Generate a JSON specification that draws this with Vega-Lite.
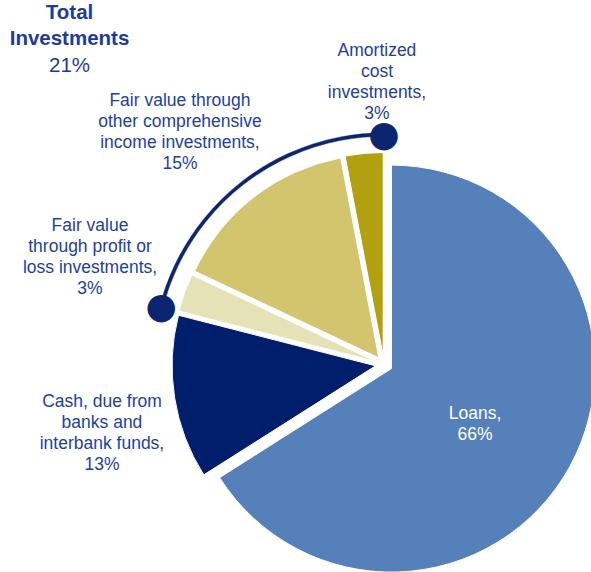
{
  "$schema": "https://vega.github.io/schema/vega-lite/v6.json",
  "width": 414,
  "height": 415,
  "autosize": {"type": "none"},
  "padding": {"left": 177, "top": 157, "right": 0, "bottom": 0},
  "background": "white",
  "config": {
    "view": {"stroke": null},
    "text": {"font": "Liberation Sans", "fontSize": 17.5, "lineBreak": "\n", "lineHeight": 21, "align": "center", "baseline": "middle"}
  },
  "title": {
    "text": ["Total", "Investments"],
    "subtitle": "21%",
    "anchor": "start",
    "frame": "group",
    "align": "center",
    "dx": -107.5,
    "dy": 65,
    "offset": 0,
    "font": "Liberation Sans",
    "fontSize": 20.5,
    "fontWeight": "bold",
    "color": "#1C3C98",
    "lineHeight": 25.5,
    "subtitleFont": "Liberation Sans",
    "subtitleFontSize": 20.5,
    "subtitleFontWeight": "normal",
    "subtitleColor": "#1C3C98",
    "subtitleLineHeight": 25,
    "subtitlePadding": 7
  },
  "data": {
    "values": [
      {"cat": "Loans", "ord": 1, "value": 66, "label": "Loans,\n66%"},
      {"cat": "Cash", "ord": 2, "value": 13, "label": "Cash, due from\nbanks and\ninterbank funds,\n13%"},
      {"cat": "FVPL", "ord": 3, "value": 3, "label": "Fair value\nthrough profit or\nloss investments,\n3%"},
      {"cat": "FVOCI", "ord": 4, "value": 15, "label": "Fair value through\nother comprehensive\nincome investments,\n15%"},
      {"cat": "Amortized", "ord": 5, "value": 3, "label": "Amortized\ncost\ninvestments,\n3%"}
    ]
  },
  "encoding": {
    "theta": {"field": "value", "type": "quantitative", "stack": true},
    "order": {"field": "ord", "type": "quantitative"}
  },
  "layer": [
    {
      "mark": {"type": "arc", "radius": 203.5, "xOffset": 7.45, "yOffset": 4.1, "stroke": "white", "strokeWidth": 1},
      "encoding": {
        "color": {"field": "cat", "type": "nominal", "legend": null, "scale": {"domain": ["Loans", "Cash", "FVPL", "FVOCI", "Amortized"], "range": ["#5680B9", "#001E6C", "#E6E2B8", "#D2C56E", "#B3A00F"]}},
        "opacity": {"condition": {"test": "datum.cat === 'Loans'", "value": 1}, "value": 0}
      }
    },
    {
      "mark": {"type": "arc", "radius": 203.5, "xOffset": -8.4, "yOffset": 1.33, "stroke": "white", "strokeWidth": 1},
      "encoding": {
        "color": {"field": "cat", "type": "nominal", "legend": null, "scale": {"domain": ["Loans", "Cash", "FVPL", "FVOCI", "Amortized"], "range": ["#5680B9", "#001E6C", "#E6E2B8", "#D2C56E", "#B3A00F"]}},
        "opacity": {"condition": {"test": "datum.cat === 'Cash'", "value": 1}, "value": 0}
      }
    },
    {
      "mark": {"type": "arc", "radius": 203.5, "xOffset": -8.0, "yOffset": -2.9, "stroke": "white", "strokeWidth": 1},
      "encoding": {
        "color": {"field": "cat", "type": "nominal", "legend": null, "scale": {"domain": ["Loans", "Cash", "FVPL", "FVOCI", "Amortized"], "range": ["#5680B9", "#001E6C", "#E6E2B8", "#D2C56E", "#B3A00F"]}},
        "opacity": {"condition": {"test": "datum.cat === 'FVPL'", "value": 1}, "value": 0}
      }
    },
    {
      "mark": {"type": "arc", "radius": 203.5, "xOffset": -5.2, "yOffset": -6.7, "stroke": "white", "strokeWidth": 1},
      "encoding": {
        "color": {"field": "cat", "type": "nominal", "legend": null, "scale": {"domain": ["Loans", "Cash", "FVPL", "FVOCI", "Amortized"], "range": ["#5680B9", "#001E6C", "#E6E2B8", "#D2C56E", "#B3A00F"]}},
        "opacity": {"condition": {"test": "datum.cat === 'FVOCI'", "value": 1}, "value": 0}
      }
    },
    {
      "mark": {"type": "arc", "radius": 203.5, "xOffset": -0.8, "yOffset": -8.5, "stroke": "white", "strokeWidth": 1},
      "encoding": {
        "color": {"field": "cat", "type": "nominal", "legend": null, "scale": {"domain": ["Loans", "Cash", "FVPL", "FVOCI", "Amortized"], "range": ["#5680B9", "#001E6C", "#E6E2B8", "#D2C56E", "#B3A00F"]}},
        "opacity": {"condition": {"test": "datum.cat === 'Amortized'", "value": 1}, "value": 0}
      }
    },
    {
      "mark": {"type": "arc", "radius": 231.7, "radius2": 228.3, "color": "#0B2570", "stroke": "#0B2570", "strokeWidth": 0.4},
      "encoding": {
        "opacity": {"condition": {"test": "datum.ord >= 3", "value": 1}, "value": 0}
      }
    },
    {
      "transform": [
        {"window": [{"op": "sum", "field": "value", "as": "cum"}], "sort": [{"field": "ord"}]},
        {"filter": "datum.ord === 2 || datum.ord === 5"}
      ],
      "mark": {"type": "text", "radius": 230, "font": "DejaVu Sans", "fontSize": 36, "color": "#0B2570"},
      "encoding": {
        "theta": {"field": "cum", "type": "quantitative", "stack": null},
        "text": {"value": "●"}
      }
    },
    {
      "mark": {"type": "text", "radius": 108, "dx": -3.6, "dy": -3, "color": "#FFFFFF"},
      "encoding": {
        "text": {"field": "label"},
        "opacity": {"condition": {"test": "datum.cat === 'Loans'", "value": 1}, "value": 0}
      }
    },
    {
      "mark": {"type": "text", "radius": 290, "dx": 4.4, "dy": -7.4, "color": "#1E3F9B"},
      "encoding": {
        "text": {"field": "label"},
        "opacity": {"condition": {"test": "datum.cat === 'Cash'", "value": 1}, "value": 0}
      }
    },
    {
      "mark": {"type": "text", "radius": 313, "dx": 0.5, "dy": -32, "color": "#1E3F9B"},
      "encoding": {
        "text": {"field": "label"},
        "opacity": {"condition": {"test": "datum.cat === 'FVPL'", "value": 1}, "value": 0}
      }
    },
    {
      "mark": {"type": "text", "radius": 305, "dx": -17.1, "dy": -23, "color": "#1E3F9B"},
      "encoding": {
        "text": {"field": "label"},
        "opacity": {"condition": {"test": "datum.cat === 'FVOCI'", "value": 1}, "value": 0}
      }
    },
    {
      "mark": {"type": "text", "radius": 283, "dx": 19.6, "dy": -32.2, "color": "#1E3F9B"},
      "encoding": {
        "text": {"field": "label"},
        "opacity": {"condition": {"test": "datum.cat === 'Amortized'", "value": 1}, "value": 0}
      }
    }
  ]
}
